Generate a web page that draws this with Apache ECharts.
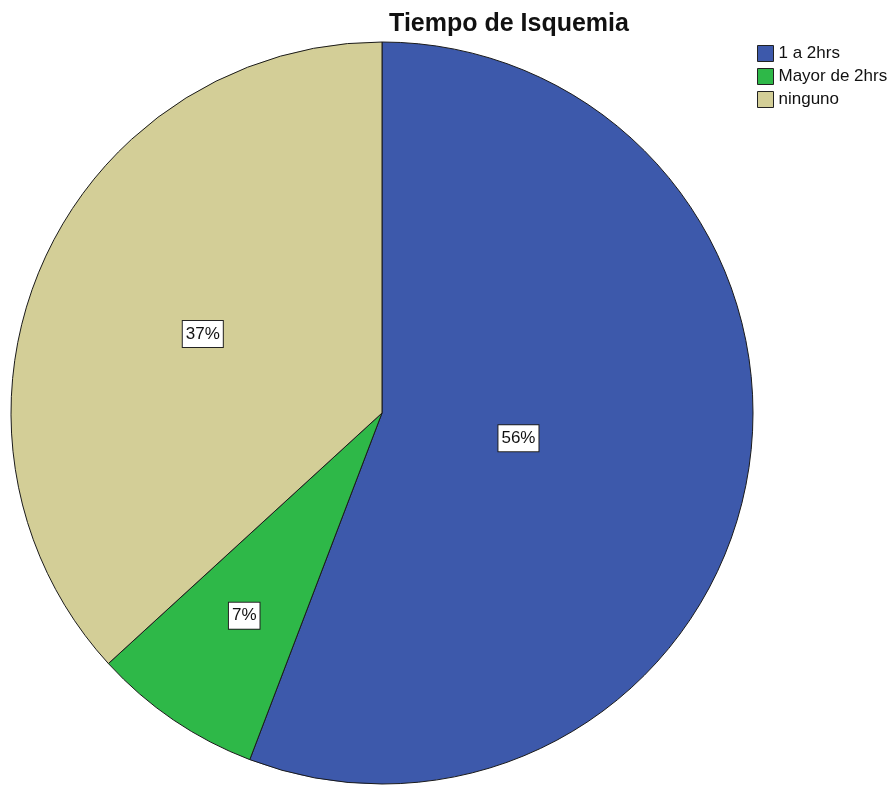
<!DOCTYPE html>
<html>
<head>
<meta charset="utf-8">
<script src="https://cdn.jsdelivr.net/npm/echarts@6/dist/echarts.min.js"></script>
<style>
  html, body { margin: 0; padding: 0; background: #fff; }
  #chart { width: 896px; height: 785px; }
</style>
</head>
<body>
<div id="chart"></div>
<script>
var categories = ['1 a 2hrs', 'Mayor de 2hrs', 'ninguno'];
var values = [55.8, 7.4, 36.8];
var colors = ['#3d59ab', '#2eb848', '#d3ce97'];

var pieCenter = [382, 413];
var pieRadius = 371;

var pieData = [];
for (var i = 0; i < categories.length; i++) {
    pieData.push({name: categories[i], value: values[i], itemStyle: {color: colors[i]}});
}

// put each label at the centroid of its slice (like SPSS does)
function centroidLayout(params) {
    var total = 0;
    values.forEach(function (v) { total += v; });
    var before = 0;
    for (var k = 0; k < params.dataIndex; k++) before += values[k];
    var a0 = before / total * 2 * Math.PI;
    var a1 = (before + values[params.dataIndex]) / total * 2 * Math.PI;
    var half = (a1 - a0) / 2;
    var mid = (a0 + a1) / 2;
    var d = 2 * pieRadius * Math.sin(half) / (3 * half);
    return {
        x: pieCenter[0] + d * Math.sin(mid),
        y: pieCenter[1] - d * Math.cos(mid)
    };
}

var myChart = echarts.init(document.getElementById('chart'));
var option = {
    animation: false,
    title: {
        text: 'Tiempo de Isquemia',
        left: 504,
        top: 7,
        textAlign: 'center',
        textStyle: {fontFamily: 'Liberation Sans', fontSize: 25, fontWeight: 'bold', color: '#111'}
    },
    legend: {
        orient: 'vertical',
        left: 757,
        top: 45,
        padding: 0,
        itemWidth: 16,
        itemHeight: 16,
        itemGap: 6,
        icon: 'rect',
        selectedMode: false,
        itemStyle: {borderColor: '#222', borderWidth: 1},
        textStyle: {fontFamily: 'Liberation Sans', fontSize: 17, color: '#111', lineHeight: 16},
        data: categories
    },
    series: [
        {
            type: 'pie',
            center: pieCenter,
            radius: pieRadius,
            startAngle: 90,
            clockwise: true,
            itemStyle: {borderColor: '#1a1a1a', borderWidth: 1},
            emphasis: {disabled: true},
            label: {
                show: true,
                position: 'inside',
                formatter: function (p) { return Math.round(p.percent) + '%'; },
                fontFamily: 'Liberation Sans',
                fontSize: 17,
                color: '#111',
                backgroundColor: '#fff',
                borderColor: '#222',
                borderWidth: 1,
                padding: [5, 3, 4, 3]
            },
            labelLayout: centroidLayout,
            labelLine: {show: false},
            data: pieData
        }
    ]
};
myChart.setOption(option, true);
</script>
</body>
</html>
